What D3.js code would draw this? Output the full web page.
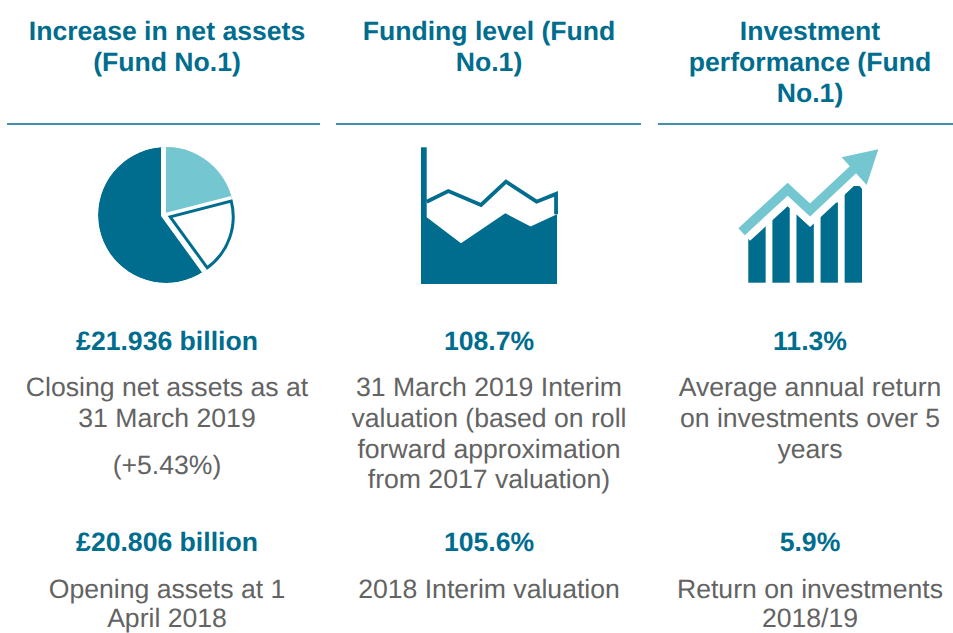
<!DOCTYPE html>
<html>
<head>
<meta charset="utf-8">
<script src="https://cdn.jsdelivr.net/npm/d3@7"></script>
<style>
html, body { margin: 0; padding: 0; background: #fff; overflow: hidden; }
text { font-family: "Liberation Sans", Arial, sans-serif; text-rendering: geometricPrecision; }
</style>
</head>
<body>
<script>
// text of the three columns
var titles = [
  ["Increase in net assets", "(Fund No.1)"],
  ["Funding level (Fund", "No.1)"],
  ["Investment", "performance (Fund", "No.1)"]
];
var firstValues = ["£21.936 billion", "108.7%", "11.3%"];
var firstNotes = [
  ["Closing net assets as at", "31 March 2019", "(+5.43%)"],
  ["31 March 2019 Interim", "valuation (based on roll", "forward approximation", "from 2017 valuation)"],
  ["Average annual return", "on investments over 5", "years"]
];
var secondValues = ["£20.806 billion", "105.6%", "5.9%"];
var secondNotes = [
  ["Opening assets at 1", "April 2018"],
  ["2018 Interim valuation"],
  ["Return on investments", "2018/19"]
];

// pie icon
var pieValues = [21, 19, 60];

// area icon
var lineX = [4.2, 20.1, 44.1, 62.5, 85, 99.3, 99.3];
var lineY = [60.2, 68, 57.8, 74.9, 60.2, 65.9, 51];
var areaX = [0, 4.2, 29.4, 62, 80.6, 100];
var areaY = [49, 48.8, 29.8, 51.7, 42, 51];

// bars + arrow icon
var barNames = ["a", "b", "c", "d", "e"];
var barValues = [60, 80, 72, 83, 100];
var arrowX = [-5.9, 34.6, 54.3, 92.4];
var arrowY = [52.8, 96.6, 75.2, 117.2];
var headX = [114.4, 82.1, 104.1];
var headY = [137.9, 129.7, 101];

var dark = "#006d8f", light = "#74c6d0", grey = "#636363";
var width = 953, height = 633;
var centers = [167, 489, 810];
var rules = [[7, 320], [336, 641], [658, 953]];

var svg = d3.select("body").append("svg")
    .attr("width", width)
    .attr("height", height);

// write stacked lines of text, centred on the column
function lines(sel, rows, x, ys, size, weight, fill) {
  rows.forEach(function(d, i) {
    sel.append("text")
      .attr("x", x)
      .attr("y", ys[i])
      .attr("text-anchor", "middle")
      .attr("font-size", size)
      .attr("font-weight", weight)
      .attr("fill", fill)
      .text(d);
  });
}

var noteY = [396, 427, 458, 488];
var closingY = [396, 427, 474];
var lastY = [598, 627];

centers.forEach(function(cx, i) {
  lines(svg, titles[i], cx, [40, 71, 102], 26.6, "bold", dark);
  svg.append("line")
    .attr("x1", rules[i][0]).attr("x2", rules[i][1])
    .attr("y1", 124).attr("y2", 124)
    .attr("stroke", dark).attr("stroke-width", 1.5);
  lines(svg, [firstValues[i]], cx, [350], 26.6, "bold", dark);
  lines(svg, firstNotes[i], cx, i == 0 ? closingY : noteY, 26.6, "normal", grey);
  lines(svg, [secondValues[i]], cx, [551], 26.6, "bold", dark);
  lines(svg, secondNotes[i], cx, lastY, 26.6, "normal", grey);
});

// pie: the circle is cut by white spokes that don't meet in its centre,
// so each slice has its own apex and the outline is clipped to the circle
var slices = d3.pie().sort(null)(pieValues);
var bigArc = d3.arc().innerRadius(0).outerRadius(100);
var outlineArc = d3.arc().innerRadius(0).outerRadius(63);

svg.append("clipPath").attr("id", "pieClip")
  .append("circle").attr("cx", 166).attr("cy", 215).attr("r", 68);

var pieG = svg.append("g").attr("clip-path", "url(#pieClip)");
pieG.append("circle").attr("cx", 166).attr("cy", 215).attr("r", 68).attr("fill", dark);
// white wedge over everything that isn't the dark slice
pieG.append("path")
  .attr("d", bigArc({startAngle: 0, endAngle: slices[2].startAngle}))
  .attr("transform", "translate(161,216)")
  .attr("fill", "#fff");
pieG.append("path")
  .attr("d", bigArc(slices[0]))
  .attr("transform", "translate(166,212.7)")
  .attr("fill", light);
svg.append("path")
  .attr("d", outlineArc(slices[1]))
  .attr("transform", "translate(170.2,216.8)")
  .attr("fill", "#fff")
  .attr("stroke", dark)
  .attr("stroke-width", 3);

// area icon
var ax = d3.scaleLinear().domain([0, 100]).range([421, 557]);
var ay = d3.scaleLinear().domain([0, 100]).range([284, 147.3]);
var area = d3.area()
    .x(function(d) { return ax(d[0]); })
    .y0(ay(0))
    .y1(function(d) { return ay(d[1]); });
var line = d3.line()
    .x(function(d) { return ax(d[0]); })
    .y(function(d) { return ay(d[1]); });

svg.append("path")
  .attr("d", area(d3.zip(areaX, areaY)))
  .attr("fill", dark);
svg.append("path")
  .attr("d", line(d3.zip(lineX, lineY)))
  .attr("fill", "none")
  .attr("stroke", dark)
  .attr("stroke-width", 3.8);
svg.append("rect")
  .attr("x", ax(0))
  .attr("y", ay(100))
  .attr("width", ax(4.2) - ax(0))
  .attr("height", ay(0) - ay(100))
  .attr("fill", dark);

// bars icon
var bx = d3.scaleBand().domain(barNames).range([748.3, 862]).paddingInner(0.28).paddingOuter(0);
var by = d3.scaleLinear().domain([0, 100]).range([282.7, 186]);
var lx = d3.scaleLinear().domain([0, 100]).range([748.3, 862]);
var arrowLine = d3.line()
    .x(function(d) { return lx(d[0]); })
    .y(function(d) { return by(d[1]); });

svg.selectAll(".bar")
  .data(barValues)
  .enter().append("rect")
    .attr("class", "bar")
    .attr("x", function(d, i) { return bx(barNames[i]); })
    .attr("y", function(d) { return by(d); })
    .attr("width", bx.bandwidth())
    .attr("height", function(d) { return by(0) - by(d); })
    .attr("fill", dark);

// white halo cuts the bar tops, arrow goes on top of it
var headPts = d3.zip(headX, headY);
svg.append("path")
  .attr("d", arrowLine(d3.zip(arrowX, arrowY)))
  .attr("fill", "none")
  .attr("stroke", "#fff")
  .attr("stroke-width", 25)
  .attr("stroke-miterlimit", 10);
svg.append("path")
  .attr("d", arrowLine(headPts) + "Z")
  .attr("fill", "#fff")
  .attr("stroke", "#fff")
  .attr("stroke-width", 12);
svg.append("path")
  .attr("d", arrowLine(d3.zip(arrowX, arrowY)))
  .attr("fill", "none")
  .attr("stroke", light)
  .attr("stroke-width", 9.5)
  .attr("stroke-miterlimit", 10);
svg.append("path")
  .attr("d", arrowLine(headPts) + "Z")
  .attr("fill", light);
</script>
</body>
</html>
